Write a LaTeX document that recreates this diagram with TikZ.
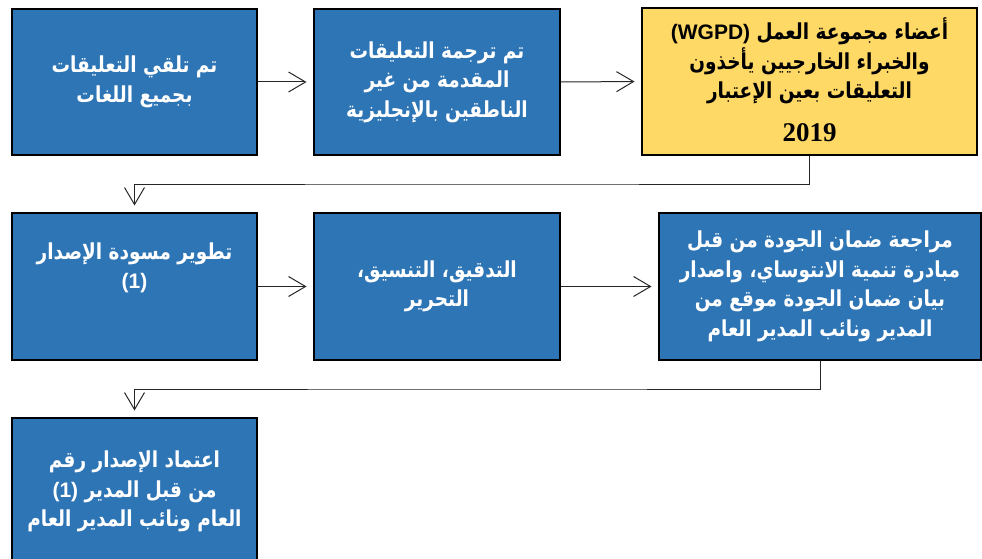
\documentclass[tikz,border=0pt]{standalone}
\usepackage{fontspec}
\usetikzlibrary{arrows.meta,calc}
\TeXXeTstate=1
\newfontfamily\arabicfont[Script=Arabic, FakeStretch=0.84]{DejaVu Sans}
\newfontfamily\latinsans{Liberation Sans}
\newfontfamily\latinserif{Liberation Serif}
\newcommand\arline[1]{\beginR #1\endR}
\newcommand\lat[1]{{\latinsans\fontsize{21}{29.5}\selectfont #1}}
\definecolor{stepblue}{RGB}{46,117,182}
\definecolor{stepyellow}{RGB}{255,217,102}
\tikzset{
  stepbox/.style={draw=black, line width=2.4pt, fill=stepblue, text=white,
    align=center, inner sep=0pt, font=\arabicfont\bfseries\fontsize{22}{29.5}\selectfont},
  flow/.style={draw=black!85, line width=1pt,
    -{Straight Barb[length=17pt,width=20pt,line width=1pt]}, shorten >=6.5pt},
}
\begin{document}
\begin{tikzpicture}[x=1pt,y=-1pt]
\useasboundingbox (0,0) rectangle (982,559);
\begin{scope}
\clip (0,0) rectangle (982,559);
% first row
\node[stepbox, minimum width=244.6pt, minimum height=145.6pt] (b1) at (134.5,82)
  {\arline{تم تلقي التعليقات}\\ \arline{بجميع اللغات}};
\node[stepbox, minimum width=245.6pt, minimum height=145.6pt] (b2) at (437,82)
  {\arline{تم ترجمة التعليقات}\\ \arline{المقدمة من غير}\\ \arline{الناطقين بالإنجليزية}};
\node[stepbox, fill=stepyellow, text=black, minimum width=334.6pt, minimum height=146.6pt] (b3) at (809.5,81.5)
  {\arline{أعضاء مجموعة العمل \beginL\lat{(WGPD)}\endL}\\
   \arline{والخبراء الخارجيين يأخذون}\\
   \arline{التعليقات بعين الإعتبار}\\[13pt]
   {\latinserif\fontsize{27}{30}\selectfont 2019}\\[-26pt]~};
% second row
\node[stepbox, minimum width=244.6pt, minimum height=146.6pt] (b4) at (134.5,286.5)
  {\arline{تطوير مسودة الإصدار}\\ \lat{(1)}\\[12pt] ~};
\node[stepbox, minimum width=245.6pt, minimum height=146.6pt] (b5) at (437,286.5)
  {\arline{التدقيق، التنسيق،}\\ \arline{التحرير}};
\node[stepbox, minimum width=321.6pt, minimum height=146.6pt] (b6) at (820,286.5)
  {\arline{مراجعة ضمان الجودة من قبل}\\ \arline{مبادرة تنمية الانتوساي، واصدار}\\
   \arline{بيان ضمان الجودة موقع من}\\ \arline{المدير ونائب المدير العام}};
% third row
\node[stepbox, minimum width=244.6pt, minimum height=146.6pt] (b7) at (134.5,491.5)
  {\arline{اعتماد الإصدار رقم}\\ \arline{من قبل المدير \beginL\lat{(1)}\endL}\\
   \arline{العام ونائب المدير العام}};
\end{scope}
% connectors
\coordinate (m1) at ($(b3.south)!0.5!(b4.north)$);
\coordinate (m2) at ($(b6.south)!0.5!(b7.north)$);
\draw[flow] (b1.east) -- (b2.west);
\draw[flow] (b2.east) -- (b3.west);
\draw[flow] (b3.south) |- (m1) -| (b4.north);
\draw[flow] (b4.east) -- (b5.west);
\draw[flow] (b5.east) -- (b6.west);
\draw[flow] (b6.south) |- (m2) -| (b7.north);
\end{tikzpicture}
\end{document}
